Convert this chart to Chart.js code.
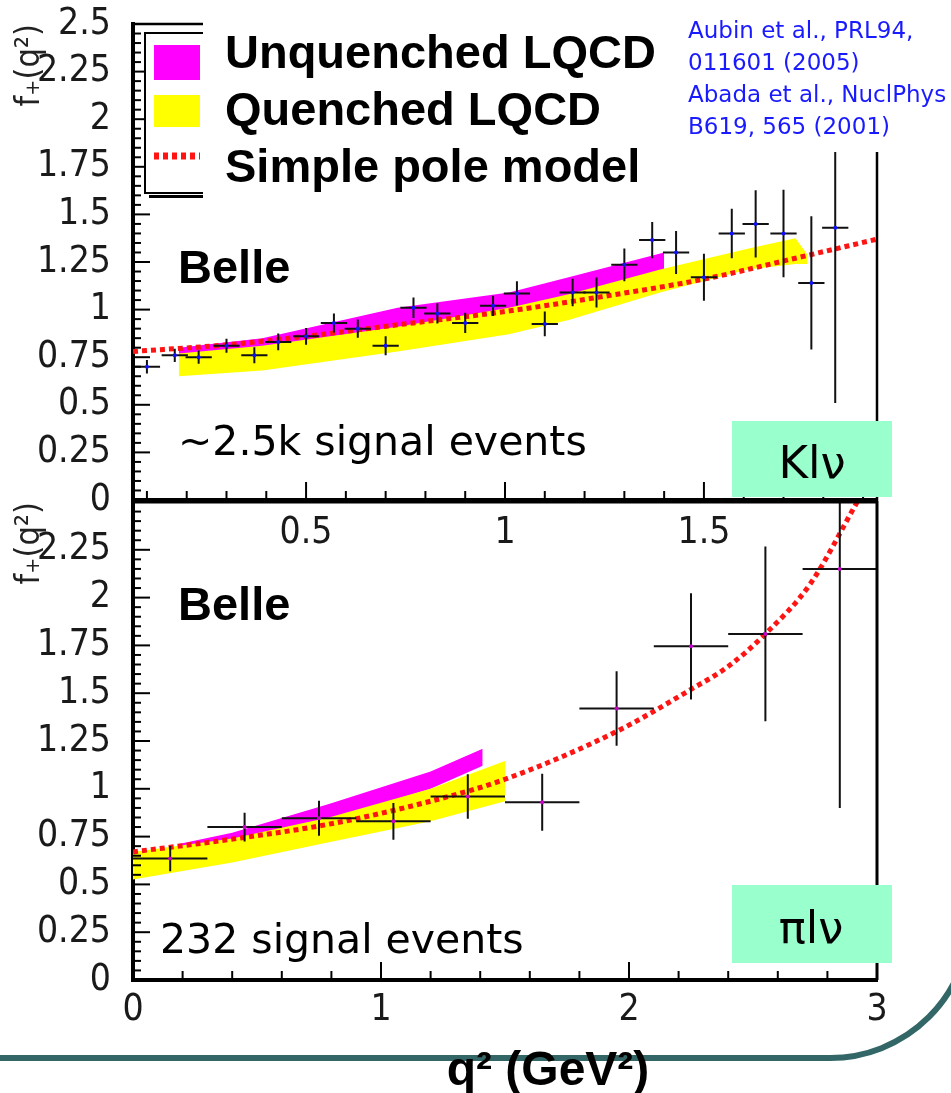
<!DOCTYPE html>
<html>
<head>
<meta charset="utf-8">
<script src="https://cdn.jsdelivr.net/npm/chart.js@4.4.1/dist/chart.umd.min.js"></script>
<style>
    html, body { margin: 0; padding: 0; background: #fff; }
    body { width: 951px; height: 1093px; position: relative; overflow: hidden; }
    canvas { position: absolute; left: 0; }
    #kChart { top: 0; }
    #piChart { top: 450px; }
</style>
</head>
<body>
<canvas id="kChart" width="951" height="600"></canvas>
<canvas id="piChart" width="951" height="643"></canvas>
<script>
// ---- values ----

// top panel: K l nu
const kQ2 = [0.10, 0.17, 0.23, 0.30, 0.37, 0.43, 0.50, 0.57, 0.63, 0.70, 0.77, 0.83, 0.90, 0.97,
             1.03, 1.10, 1.17, 1.23, 1.30, 1.37, 1.43, 1.50, 1.57, 1.63, 1.70, 1.77, 1.83];
const kF = [0.70, 0.76, 0.75, 0.81, 0.76, 0.83, 0.86, 0.93, 0.90, 0.81, 1.01, 0.98, 0.93, 1.02,
            1.085, 0.925, 1.09, 1.09, 1.235, 1.365, 1.30, 1.17, 1.40, 1.45, 1.40, 1.14, 1.43];
const kErr = [0.035, 0.035, 0.035, 0.037, 0.042, 0.044, 0.044, 0.05, 0.048, 0.05, 0.054, 0.053, 0.053, 0.053,
              0.064, 0.065, 0.072, 0.079, 0.086, 0.095, 0.113, 0.123, 0.13, 0.177, 0.23, 0.35, 0.92];
const kBinHalf = 0.033;

const kUnqQ2 = [0.18, 0.39, 0.73, 1.01, 1.16, 1.40];
const kUnqHi = [0.80, 0.85, 1.01, 1.09, 1.17, 1.30];
const kUnqLo = [0.76, 0.80, 0.90, 1.00, 1.07, 1.20];

const kQuQ2 = [0.18, 0.39, 0.73, 1.01, 1.16, 1.39, 1.61, 1.73, 1.76];
const kQuHi = [0.77, 0.81, 0.91, 1.01, 1.08, 1.21, 1.32, 1.375, 1.29];
const kQuLo = [0.65, 0.68, 0.78, 0.87, 0.945, 1.09, 1.21, 1.24, 1.24];

const kPoleQ2 = [0.065, 0.3, 0.5, 0.73, 1.0, 1.25, 1.5, 1.73, 1.935];
const kPoleF = [0.78, 0.815, 0.86, 0.92, 0.99, 1.07, 1.16, 1.27, 1.37];

// bottom panel: pi l nu
const piQ2 = [0.15, 0.45, 0.75, 1.05, 1.35, 1.65, 1.95, 2.25, 2.55, 2.85];
const piF = [0.635, 0.80, 0.846, 0.83, 0.96, 0.93, 1.42, 1.745, 1.81, 2.15];
const piErr = [0.066, 0.075, 0.092, 0.096, 0.116, 0.149, 0.195, 0.278, 0.457, 1.25];
const piBinHalf = 0.15;

const piUnqQ2 = [0.18, 0.40, 0.79, 1.20, 1.41];
const piUnqHi = [0.71, 0.77, 0.92, 1.09, 1.21];
const piUnqLo = [0.66, 0.71, 0.84, 1.00, 1.12];

const piQuQ2 = [0.0, 0.40, 0.79, 1.20, 1.50];
const piQuHi = [0.67, 0.74, 0.85, 1.00, 1.145];
const piQuLo = [0.525, 0.615, 0.72, 0.83, 0.935];

const piPoleQ2 = [0.0, 0.39, 0.79, 1.2, 1.5, 1.95, 2.25, 2.4, 2.55, 2.73, 2.92];
const piPoleF = [0.67, 0.735, 0.815, 0.935, 1.05, 1.30, 1.52, 1.64, 1.81, 2.07, 2.5];

// tick labels
const fTicks = [0, 0.25, 0.5, 0.75, 1, 1.25, 1.5, 1.75, 2, 2.25, 2.5];
const piFTicks = [0, 0.25, 0.5, 0.75, 1, 1.25, 1.5, 1.75, 2, 2.25];
const kQ2Ticks = [0.5, 1, 1.5];
const piQ2Ticks = [0, 1, 2, 3];

const FONT_NARROW = "'Liberation Sans Narrow', 'Arial Narrow', 'DejaVu Sans Condensed', 'Liberation Sans', sans-serif";
const FONT_BOLD = "'Liberation Sans', Arial, sans-serif";
const FONT_SLIDE = "'DejaVu Sans', Verdana, sans-serif";

// per-canvas frame ticks + slide decorations (page coords, dy = canvas top)
const frames = {
    kChart: { yMinor: 0.05, yMajorEvery: 5, xFirst: 0.1, xMinor: 0.1, xCount: 19, xMajor: 0.5, edge: 2.5 },
    piChart: { yMinor: 0.05, yMajorEvery: 5, xFirst: 0, xMinor: 0.2, xCount: 16, xMajor: 1, edge: 3 }
};

const overlays = {
    kChart: {
        dy: 0,
        legend: true,
        boxes: [
            { x: 203, y: 12, w: 487, h: 192, c: '#ffffff' },
            { x: 680, y: 0, w: 271, h: 152, c: '#ffffff' },
            { x: 732, y: 421, w: 160, h: 76, c: '#99ffcc' }
        ],
        texts: [
            { t: 'Unquenched LQCD', x: 225, y: 68, f: 'bold 47px ' + FONT_BOLD },
            { t: 'Quenched LQCD', x: 225, y: 125, f: 'bold 47px ' + FONT_BOLD },
            { t: 'Simple pole model', x: 225, y: 182, f: 'bold 47px ' + FONT_BOLD },
            { t: 'Aubin et al., PRL94,', x: 688, y: 38, f: '23px ' + FONT_SLIDE, c: '#1a1aff' },
            { t: '011601 (2005)', x: 688, y: 70, f: '23px ' + FONT_SLIDE, c: '#1a1aff' },
            { t: 'Abada et al., NuclPhys', x: 688, y: 102, f: '23px ' + FONT_SLIDE, c: '#1a1aff' },
            { t: 'B619, 565 (2001)', x: 688, y: 134, f: '23px ' + FONT_SLIDE, c: '#1a1aff' },
            { t: 'Belle', x: 178, y: 283, f: 'bold 47px ' + FONT_BOLD },
            { t: '~2.5k signal events', x: 178, y: 455, f: '41px ' + FONT_SLIDE },
            { t: 'Klν', x: 812, y: 478, f: '45px ' + FONT_SLIDE, a: 'center' }
        ]
    },
    piChart: {
        dy: 450,
        teal: true,
        boxes: [
            { x: 732, y: 885, w: 160, h: 78, c: '#99ffcc' }
        ],
        texts: [
            { t: 'Belle', x: 178, y: 620, f: 'bold 47px ' + FONT_BOLD },
            { t: '232 signal events', x: 160, y: 953, f: '41px ' + FONT_SLIDE },
            { t: 'πlν', x: 811, y: 943, f: '45px ' + FONT_SLIDE, a: 'center' },
            { t: 'q² (GeV²)', x: 548, y: 1085, f: 'bold 48px ' + FONT_BOLD, a: 'center' }
        ]
    }
};

function xy(xs, ys) {
    return xs.map((x, i) => ({ x: x, y: ys[i] }));
}

// error crosses drawn just before the points dataset
const errorBars = {
    id: 'errorBars',
    beforeDatasetDraw(chart, args) {
        const ds = chart.data.datasets[args.index];
        if (!ds.errY) return;
        const { ctx, chartArea: a, scales: { x, y } } = chart;
        ctx.save();
        ctx.beginPath();
        ctx.rect(a.left, a.top, a.right - a.left, a.bottom - a.top);
        ctx.clip();
        ctx.strokeStyle = '#111';
        ctx.lineWidth = 2;
        ds.data.forEach((p, i) => {
            const px = x.getPixelForValue(p.x);
            const py = y.getPixelForValue(p.y);
            ctx.beginPath();
            ctx.moveTo(x.getPixelForValue(p.x - ds.errX), py);
            ctx.lineTo(x.getPixelForValue(p.x + ds.errX), py);
            ctx.moveTo(px, y.getPixelForValue(p.y - ds.errY[i]));
            ctx.lineTo(px, y.getPixelForValue(p.y + ds.errY[i]));
            ctx.stroke();
        });
        ctx.restore();
    }
};

// ROOT style frame: top/right edges and inward ticks
const rootFrame = {
    id: 'rootFrame',
    afterDraw(chart) {
        const o = frames[chart.canvas.id];
        const { ctx, chartArea: a, scales: { x, y } } = chart;
        ctx.save();
        ctx.strokeStyle = '#000';
        ctx.lineWidth = o.edge;
        ctx.beginPath();
        ctx.moveTo(a.left, a.top);
        ctx.lineTo(a.right, a.top);
        ctx.lineTo(a.right, a.bottom);
        ctx.stroke();

        ctx.lineWidth = 2;
        const nY = Math.round((y.max - y.min) / o.yMinor);
        for (let i = 0; i <= nY; i++) {
            const py = y.getPixelForValue(y.min + i * o.yMinor);
            const len = i % o.yMajorEvery === 0 ? 17 : 8;
            ctx.beginPath();
            ctx.moveTo(a.left, py);
            ctx.lineTo(a.left + len, py);
            ctx.stroke();
        }
        for (let i = 0; i < o.xCount; i++) {
            const v = o.xFirst + i * o.xMinor;
            const major = Math.abs(v / o.xMajor - Math.round(v / o.xMajor)) < 1e-6;
            const px = x.getPixelForValue(v);
            ctx.beginPath();
            ctx.moveTo(px, a.bottom);
            ctx.lineTo(px, a.bottom - (major ? 18 : 9));
            ctx.stroke();
        }
        ctx.restore();
    }
};

function drawRootLegend(chart) {
    const ctx = chart.ctx;
    const ds = chart.data.datasets;
    const unq = ds.find(d => d.label === 'Unquenched LQCD');
    const qu = ds.find(d => d.label === 'Quenched LQCD');
    const pole = ds.find(d => d.label === 'Simple pole model');
    // legend box, its right part gets hidden by the slide text box
    ctx.fillStyle = '#fff';
    ctx.fillRect(145, 33, 520, 160);
    ctx.strokeStyle = '#000';
    ctx.lineWidth = 2;
    ctx.strokeRect(145, 33, 520, 160);
    ctx.fillStyle = '#000';
    ctx.fillRect(149, 195, 520, 3);
    ctx.fillStyle = unq.backgroundColor;
    ctx.fillRect(154, 45, 46, 35);
    ctx.fillStyle = qu.backgroundColor;
    ctx.fillRect(154, 95, 46, 32);
    ctx.strokeStyle = pole.borderColor;
    ctx.lineWidth = 7;
    ctx.setLineDash(pole.borderDash);
    ctx.beginPath();
    ctx.moveTo(154, 156);
    ctx.lineTo(200, 156);
    ctx.stroke();
    ctx.setLineDash([]);
}

// slide text boxes drawn over the plot
const slideOverlay = {
    id: 'slideOverlay',
    afterDraw(chart) {
        const o = overlays[chart.canvas.id];
        const ctx = chart.ctx;
        ctx.save();
        ctx.translate(0, -o.dy);
        if (o.legend) drawRootLegend(chart);
        o.boxes.forEach(b => {
            ctx.fillStyle = b.c;
            ctx.fillRect(b.x, b.y, b.w, b.h);
        });
        if (o.teal) {
            ctx.strokeStyle = '#336666';
            ctx.lineWidth = 6;
            ctx.beginPath();
            ctx.moveTo(0, 1058);
            ctx.lineTo(830, 1058);
            ctx.arc(830, 918, 140, Math.PI / 2, 0, true);
            ctx.stroke();
        }
        ctx.textBaseline = 'alphabetic';
        o.texts.forEach(t => {
            ctx.font = t.f;
            ctx.fillStyle = t.c || '#000';
            ctx.textAlign = t.a || 'left';
            ctx.fillText(t.t, t.x, t.y);
        });
        ctx.restore();
    }
};

function makeChart(id, p) {
    const tickFont = { family: FONT_NARROW, size: 37 };
    return new Chart(document.getElementById(id), {
        type: 'line',
        data: {
            datasets: [
                { label: 'unq-lo', data: xy(p.unqQ2, p.unqLo), borderColor: 'transparent', borderWidth: 0, pointRadius: 0, fill: false, order: 4 },
                { label: 'Unquenched LQCD', data: xy(p.unqQ2, p.unqHi), borderColor: 'transparent', borderWidth: 0, pointRadius: 0, fill: '-1', backgroundColor: '#ff00ff', order: 4 },
                { label: 'qu-lo', data: xy(p.quQ2, p.quLo), borderColor: 'transparent', borderWidth: 0, pointRadius: 0, fill: false, order: 3 },
                { label: 'Quenched LQCD', data: xy(p.quQ2, p.quHi), borderColor: 'transparent', borderWidth: 0, pointRadius: 0, fill: '-1', backgroundColor: '#ffff00', order: 3 },
                { label: 'Simple pole model', data: xy(p.poleQ2, p.poleF), borderColor: '#ff1414', borderWidth: 5, borderDash: [5, 4], pointRadius: 0, fill: false, cubicInterpolationMode: 'monotone', order: 2 },
                { label: 'Belle', data: xy(p.q2, p.f), showLine: false, pointRadius: 2, pointBackgroundColor: p.dot, pointBorderWidth: 0, errX: p.binHalf, errY: p.err, order: 1 }
            ]
        },
        options: {
            responsive: false,
            animation: false,
            devicePixelRatio: 1,
            events: [],
            layout: { padding: p.pad },
            plugins: { legend: { display: false }, tooltip: { enabled: false } },
            scales: {
                x: {
                    type: 'linear', min: p.xMin, max: p.xMax,
                    grid: { display: false, drawTicks: false },
                    border: { display: true, width: 4, color: '#000' },
                    ticks: { font: tickFont, color: '#1a1a1a', padding: p.xPad, maxRotation: 0, autoSkip: false, callback: v => String(v) },
                    afterBuildTicks: s => { s.ticks = p.xTicks.map(v => ({ value: v })); },
                    afterFit: s => { s.height = p.xAxisH; s.paddingLeft = 0; s.paddingRight = 0; }
                },
                y: {
                    type: 'linear', min: 0, max: 2.5,
                    grid: { display: false, drawTicks: false },
                    border: { display: true, width: 4, color: '#000' },
                    ticks: { font: tickFont, color: '#1a1a1a', padding: 22, autoSkip: false, callback: v => String(v) },
                    title: { display: true, text: 'f₊(q²)', align: 'end', color: '#222', font: { family: FONT_NARROW, size: 34 }, padding: { top: 10, bottom: 0 } },
                    afterBuildTicks: s => { s.ticks = p.yTicks.map(v => ({ value: v })); },
                    afterFit: s => { s.width = 133; s.paddingTop = 0; s.paddingBottom = 0; }
                }
            }
        },
        plugins: [errorBars, rootFrame, slideOverlay]
    });
}

makeChart('kChart', {
    q2: kQ2, f: kF, err: kErr, binHalf: kBinHalf, dot: '#1010ff',
    unqQ2: kUnqQ2, unqHi: kUnqHi, unqLo: kUnqLo,
    quQ2: kQuQ2, quHi: kQuHi, quLo: kQuLo,
    poleQ2: kPoleQ2, poleF: kPoleF,
    xMin: 0.065, xMax: 1.935, xTicks: kQ2Ticks, yTicks: fTicks, xPad: 11,
    xAxisH: 100, pad: { left: 0, top: 24, right: 74, bottom: 0 }
});

makeChart('piChart', {
    q2: piQ2, f: piF, err: piErr, binHalf: piBinHalf, dot: '#cc00cc',
    unqQ2: piUnqQ2, unqHi: piUnqHi, unqLo: piUnqLo,
    quQ2: piQuQ2, quHi: piQuHi, quLo: piQuLo,
    poleQ2: piPoleQ2, poleF: piPoleF,
    xMin: 0, xMax: 3, xTicks: piQ2Ticks, yTicks: piFTicks, xPad: 8,
    xAxisH: 60, pad: { left: 0, top: 52, right: 74, bottom: 53 }
});
</script>
</body>
</html>
